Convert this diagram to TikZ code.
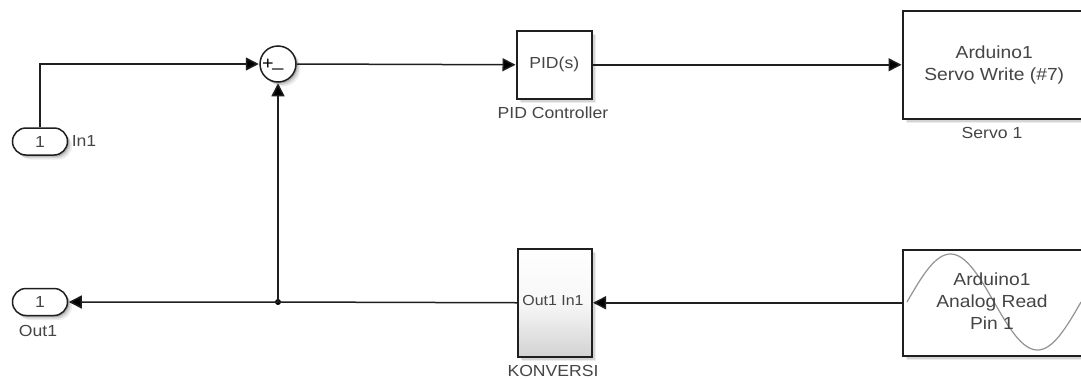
\documentclass[tikz,border=0pt]{standalone}
\usepackage{fontspec}
\setmainfont[FakeStretch=1.1]{Liberation Sans}
\usetikzlibrary{arrows.meta,shadows,shapes.misc}
\definecolor{txt}{gray}{0.27}
\definecolor{ln}{gray}{0.12}
\tikzset{
  x=1pt,y=-1pt,
  softshadow/.style={preaction={fill=black,opacity=.07,transform canvas={xshift=4.5pt,yshift=-4.5pt}},
                     preaction={fill=black,opacity=.10,transform canvas={xshift=3pt,yshift=-3pt}},
                     preaction={fill=black,opacity=.16,transform canvas={xshift=1.6pt,yshift=-1.6pt}}},
  blockbox/.style={draw=ln,line width=1.5pt,fill=white,softshadow,inner sep=0pt,text=txt,align=center,anchor=north west},
  pill/.style={blockbox,rounded rectangle,anchor=center,minimum width=55pt,minimum height=27pt},
  sumblock/.style={draw=ln,line width=1.5pt,fill=white,softshadow,circle,minimum size=36pt,inner sep=0pt},
  lab/.style={text=txt,inner sep=0pt,font=\fontsize{16}{18}\selectfont},
  big/.style={font=\fontsize{17.5}{22}\selectfont},
  wire/.style={draw=ln,line width=1.5pt},
  flow/.style={wire,-{Triangle[length=13pt,width=13pt,fill=black]},shorten >=0.5pt},
  dotj/.style={circle,fill=black,minimum size=6pt,inner sep=0pt},
  sine/.style={draw=gray!85,line width=1.2pt}
}
\begin{document}
\begin{tikzpicture}
\useasboundingbox (0,0) rectangle (1081,378);
\clip (0,0) rectangle (1081,378);
\fill[white] (0,0) rectangle (1081,378);
% blocks
\node[pill,lab] (in1) at (40,141.5) {1};
\node[pill,lab] (out1) at (40,302) {1};
\node[sumblock] (sum) at (278,64) {};
\node[lab,font=\fontsize{18}{18}\selectfont,text=black] (plus) at (268,64) {+};
\node[lab,font=\fontsize{18}{18}\selectfont,text=black] (minus) at (278,68) {\_};
\node[blockbox,lab,minimum width=75pt,minimum height=68pt] (pid) at (516,30) {PID(s)};
\node[blockbox,lab,big,minimum width=183pt,minimum height=108pt] (servo) at (902,10) {Arduino1\\Servo Write (\#7)};
\node[blockbox,minimum width=74pt,minimum height=108pt,top color=white,bottom color=gray!35,middle color=gray!6] (kon) at (517,248) {};
\node[lab,font=\fontsize{14.5}{16}\selectfont] (kontext) at (553,301) {Out1 In1};
\node[blockbox,minimum width=183pt,minimum height=106pt] (analog) at (902,249) {};
\draw[sine] plot[domain=0:174,samples=80] ({907+\x},{302-48*sin(\x/174*360)});
\node[lab,big,align=center] (analogtext) at (992,301) {Arduino1\\Analog Read\\Pin 1};
% labels
\node[lab] (in1lab) at (84,141) {In1};
\node[lab] (out1lab) at (38,331) {Out1};
\node[lab] (pidlab) at (553,113) {PID Controller};
\node[lab] (servolab) at (992,133) {Servo 1};
\node[lab] (konlab) at (553,370.5) {KONVERSI};
% connectors
\node[dotj] (junc) at (278,302) {};
\draw[flow] (in1.north) |- (sum.west);
\draw[flow] (sum.east) -- (pid.west);
\draw[flow] (pid.east) -- (servo.west |- pid.east);
\draw[flow] (analog.west |- kon.east) -- (kon.east);
\draw[flow] (kon.west) -- (junc.center) -- (out1.east);
\draw[flow] (junc.center) -- (sum.south);
\end{tikzpicture}
\end{document}
